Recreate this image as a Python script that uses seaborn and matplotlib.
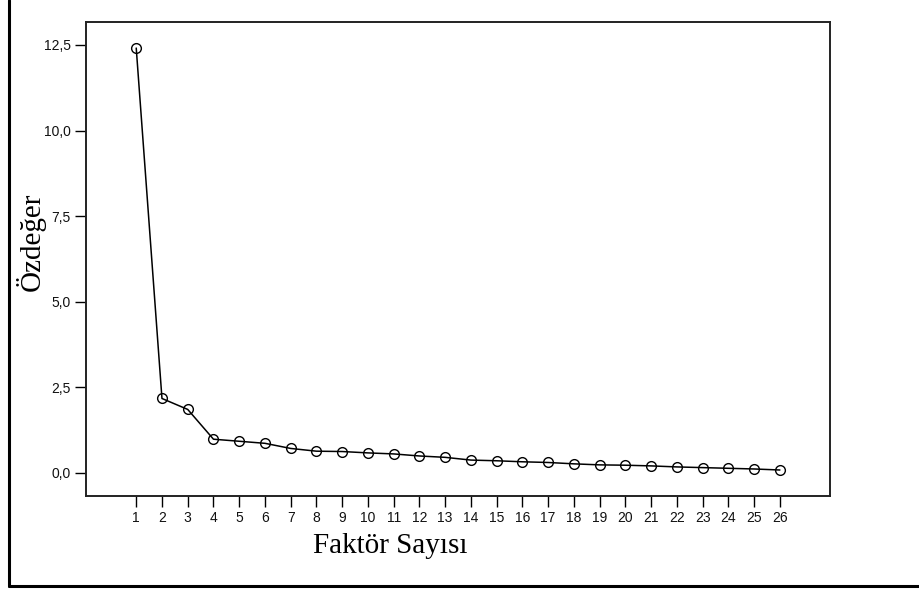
import matplotlib
matplotlib.use("Agg")
import matplotlib.pyplot as plt
import seaborn as sns
from matplotlib.lines import Line2D

# === 1. Data ===
factors = list(range(1, 27))
eigenvalues = [12.41, 2.17, 1.85, 0.98, 0.92, 0.86, 0.71, 0.63, 0.62, 0.58,
               0.55, 0.49, 0.45, 0.37, 0.35, 0.32, 0.30, 0.26, 0.23, 0.22,
               0.20, 0.17, 0.15, 0.13, 0.11, 0.08]
y_ticks = [0.0, 2.5, 5.0, 7.5, 10.0, 12.5]
y_tick_labels = [f"{v:.1f}".replace(".", ",") for v in y_ticks]

x_title = "Faktör Sayısı"
y_title = "Özdeğer"

# === 2. Figure ===
sns.set_style("white")
plt.rcParams["font.family"] = ["Liberation Sans", "DejaVu Sans"]

fig = plt.figure(figsize=(9.2, 5.9), dpi=100)
ax = fig.add_axes([0.0935, 0.1593, 0.8085, 0.8039])

sns.lineplot(x=factors, y=eigenvalues, ax=ax, color="black", linewidth=1.1,
             marker="o", markersize=7, markerfacecolor="none",
             markeredgecolor="black", markeredgewidth=1.0)

ax.set_xlim(-0.95, 27.94)
ax.set_ylim(-0.68, 13.18)
ax.set_xticks(factors)
ax.set_xticklabels([str(f) for f in factors])
ax.set_yticks(y_ticks)
ax.set_yticklabels(y_tick_labels)
ax.tick_params(axis="both", direction="out", length=8, width=1.0,
               color="black", labelsize=10, labelcolor="#111111", pad=3,
               left=True, bottom=True)
for sp in ax.spines.values():
    sp.set_color("#222222")
    sp.set_linewidth(1.4)
ax.set_xlabel("")
ax.set_ylabel("")

# axis titles (serif, as in the original export)
fig.text(390 / 920, 1 - 553 / 590, x_title, family="Liberation Serif",
         fontsize=21, ha="center", va="baseline", color="black")
fig.text(31 / 920, 1 - 242 / 590, y_title, family="Liberation Serif",
         fontsize=21, rotation=90, ha="center", va="center", color="black")

# outer frame (left and bottom only)
fig.add_artist(Line2D([9.5 / 920, 9.5 / 920], [4 / 590, 1.0],
                      transform=fig.transFigure, color="black", linewidth=2.2))
fig.add_artist(Line2D([9.5 / 920, 1.0], [4 / 590, 4 / 590],
                      transform=fig.transFigure, color="black", linewidth=2.2))

fig.savefig("out.png", dpi=100)
